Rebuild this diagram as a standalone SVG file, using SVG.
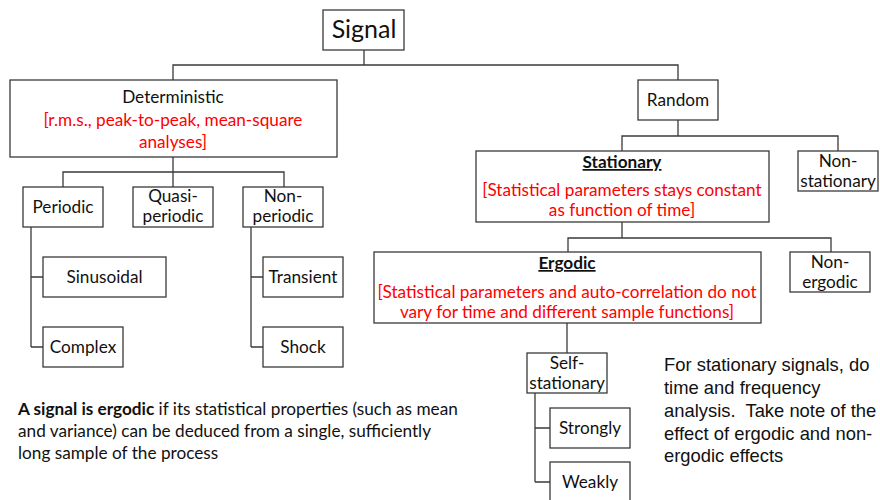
<svg xmlns="http://www.w3.org/2000/svg" width="880" height="500" viewBox="0 0 880 500">
  <style>
    .box { fill: #ffffff; stroke: #3a3a3a; stroke-width: 1.3; }
    .link { fill: none; stroke: #3a3a3a; stroke-width: 1.3; }
    .t { font-family: Lato, "Open Sans", "Liberation Sans", sans-serif; font-size: 17.2px; fill: #111; text-anchor: middle; }
    .red { fill: #ff0000; }
    .title { font-weight: bold; text-decoration: underline; }
    .note { font-family: Lato, "Open Sans", "Liberation Sans", sans-serif; font-size: 17.2px; fill: #111; }
    .side { font-family: "Liberation Sans", Arial, sans-serif; font-size: 18.4px; fill: #111; white-space: pre; }
  </style>
  <rect width="880" height="500" fill="#ffffff"/>

  <!-- connectors -->
  <g id="connectors">
    <path class="link" d="M364 50 V65 M173 80 V65 H678 V80"/>
    <path class="link" d="M173 157 V172 M63 187 V172 H284 V187 M173 172 V187"/>
    <path class="link" d="M31 227 V347 M31 277 H43 M31 347 H43"/>
    <path class="link" d="M251 227 V347 M251 277 H263 M251 347 H263"/>
    <path class="link" d="M678 120 V136 M622 151 V136 H838 V151"/>
    <path class="link" d="M622 222 V238 M568 252 V238 H831 V252"/>
    <path class="link" d="M567 323 V353"/>
    <path class="link" d="M535 393 V482 M535 428 H550 M535 482 H550"/>
  </g>

  <g id="signal">
    <rect class="box" x="323" y="10" width="81" height="40"/>
    <text class="t" x="364" y="38" style="font-size:25px">Signal</text>
  </g>

  <g id="deterministic">
    <rect class="box" x="10" y="80" width="327" height="77"/>
    <text class="t" x="173" y="103">Deterministic</text>
    <text class="t red" x="173" y="126">[r.m.s., peak-to-peak, mean-square</text>
    <text class="t red" x="173" y="148">analyses]</text>
  </g>

  <g id="periodic">
    <rect class="box" x="23" y="187" width="80" height="40"/>
    <text class="t" x="63" y="213">Periodic</text>
  </g>

  <g id="quasi-periodic">
    <rect class="box" x="133" y="187" width="80" height="40"/>
    <text class="t" x="173" y="202">Quasi-</text>
    <text class="t" x="173" y="222">periodic</text>
  </g>

  <g id="non-periodic">
    <rect class="box" x="243" y="187" width="80" height="40"/>
    <text class="t" x="283" y="202">Non-</text>
    <text class="t" x="283" y="222">periodic</text>
  </g>

  <g id="sinusoidal">
    <rect class="box" x="43" y="257" width="123" height="40"/>
    <text class="t" x="104.5" y="283">Sinusoidal</text>
  </g>

  <g id="complex">
    <rect class="box" x="43" y="327" width="80" height="40"/>
    <text class="t" x="83" y="353">Complex</text>
  </g>

  <g id="transient">
    <rect class="box" x="263" y="257" width="80" height="40"/>
    <text class="t" x="303" y="283">Transient</text>
  </g>

  <g id="shock">
    <rect class="box" x="263" y="327" width="80" height="40"/>
    <text class="t" x="303" y="353">Shock</text>
  </g>

  <g id="random">
    <rect class="box" x="638" y="80" width="80" height="40"/>
    <text class="t" x="678" y="106">Random</text>
  </g>

  <g id="stationary">
    <rect class="box" x="476" y="151" width="293" height="71"/>
    <text class="t title" x="622" y="168">Stationary</text>
    <text class="t red" x="622" y="196">[Statistical parameters stays constant</text>
    <text class="t red" x="622" y="216">as function of time]</text>
  </g>

  <g id="non-stationary">
    <rect class="box" x="798" y="151" width="80" height="40"/>
    <text class="t" x="838" y="167">Non-</text>
    <text class="t" x="838" y="187">stationary</text>
  </g>

  <g id="ergodic">
    <rect class="box" x="374" y="252" width="387" height="71"/>
    <text class="t title" x="567" y="269">Ergodic</text>
    <text class="t red" x="567" y="298">[Statistical parameters and auto-correlation do not</text>
    <text class="t red" x="567" y="318">vary for time and different sample functions]</text>
  </g>

  <g id="non-ergodic">
    <rect class="box" x="790" y="252" width="80" height="40"/>
    <text class="t" x="830" y="268">Non-</text>
    <text class="t" x="830" y="288">ergodic</text>
  </g>

  <g id="self-stationary">
    <rect class="box" x="527" y="353" width="80" height="40"/>
    <text class="t" x="567" y="369">Self-</text>
    <text class="t" x="567" y="389">stationary</text>
  </g>

  <g id="strongly">
    <rect class="box" x="550" y="408" width="80" height="40"/>
    <text class="t" x="590" y="434">Strongly</text>
  </g>

  <g id="weakly">
    <rect class="box" x="550" y="462" width="80" height="40"/>
    <text class="t" x="590" y="488">Weakly</text>
  </g>

  <!-- definition note -->
  <g id="ergodic-note">
    <text class="note" x="18" y="415"><tspan font-weight="bold">A signal is ergodic</tspan> if its statistical properties (such as mean</text>
    <text class="note" x="18" y="437">and variance) can be deduced from a single, sufficiently</text>
    <text class="note" x="18" y="459">long sample of the process</text>
  </g>

  <!-- side remark -->
  <g id="side-note">
    <text class="side" x="664" y="371">For stationary signals, do</text>
    <text class="side" x="664" y="394">time and frequency</text>
    <text class="side" x="664" y="417">analysis.  Take note of the</text>
    <text class="side" x="664" y="440">effect of ergodic and non-</text>
    <text class="side" x="664" y="462">ergodic effects</text>
  </g>
</svg>
